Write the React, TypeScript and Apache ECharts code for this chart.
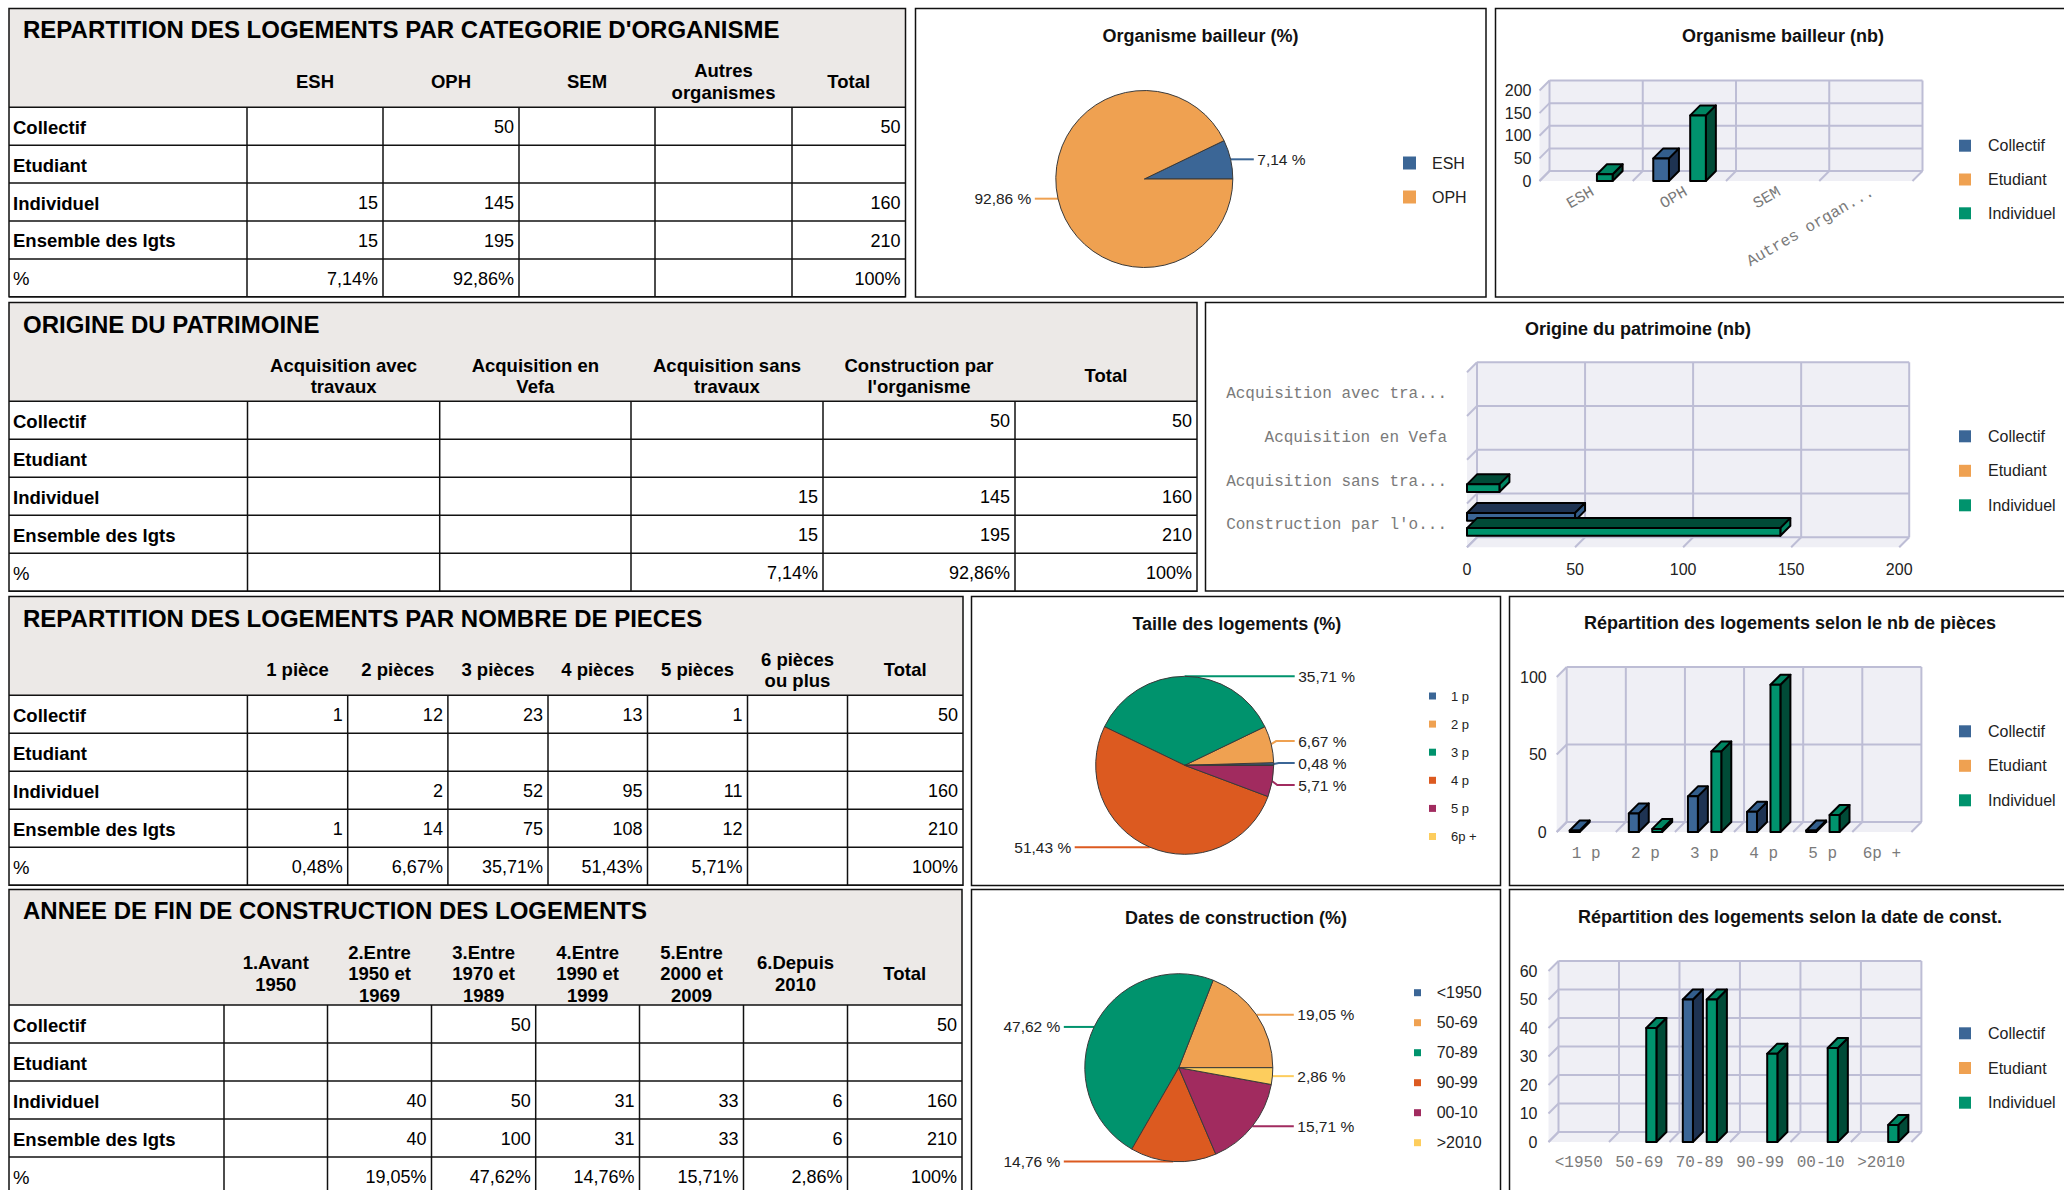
import React, { useEffect, useRef } from "react";
import * as echarts from "echarts";

const FONT = "'Liberation Sans', Arial, Helvetica, sans-serif";
const MONO = "'Liberation Mono', 'Courier New', monospace";

// ================= DATA =================
const rowLabels = ["Collectif", "Etudiant", "Individuel", "Ensemble des lgts", "%"];
const seriesNames = ["Collectif", "Etudiant", "Individuel"];

// 1. Organisme
const orgTitle = "REPARTITION DES LOGEMENTS PAR CATEGORIE D'ORGANISME";
const orgColumns = ["ESH", "OPH", "SEM", "Autres\norganismes", "Total"];
const orgCollectif = [null, 50, null, null, 50];
const orgEtudiant = [null, null, null, null, null];
const orgIndividuel = [15, 145, null, null, 160];
const orgEnsemble = [15, 195, null, null, 210];
const orgPct = [7.14, 92.86, null, null, 100];
const orgCategories = ["ESH", "OPH", "SEM", "Autres organismes"];
const orgPieNames = ["ESH", "OPH"];
const orgPieValues = [7.14, 92.86];
const orgTicks = [0, 50, 100, 150, 200];

// 2. Origine
const origTitle = "ORIGINE DU PATRIMOINE";
const origColumns = ["Acquisition avec\ntravaux", "Acquisition en\nVefa", "Acquisition sans\ntravaux", "Construction par\nl'organisme", "Total"];
const origCollectif = [null, null, null, 50, 50];
const origEtudiant = [null, null, null, null, null];
const origIndividuel = [null, null, 15, 145, 160];
const origEnsemble = [null, null, 15, 195, 210];
const origPct = [null, null, 7.14, 92.86, 100];
const origCategories = ["Acquisition avec travaux", "Acquisition en Vefa", "Acquisition sans travaux", "Construction par l'organisme"];
const origTicks = [0, 50, 100, 150, 200];

// 3. Pieces
const pcsTitle = "REPARTITION DES LOGEMENTS PAR NOMBRE DE PIECES";
const pcsColumns = ["1 pièce", "2 pièces", "3 pièces", "4 pièces", "5 pièces", "6 pièces\nou plus", "Total"];
const pcsCollectif = [1, 12, 23, 13, 1, null, 50];
const pcsEtudiant = [null, null, null, null, null, null, null];
const pcsIndividuel = [null, 2, 52, 95, 11, null, 160];
const pcsEnsemble = [1, 14, 75, 108, 12, null, 210];
const pcsPct = [0.48, 6.67, 35.71, 51.43, 5.71, null, 100];
const pcsCategories = ["1 p", "2 p", "3 p", "4 p", "5 p", "6p +"];
const pcsPieValues = [0.48, 6.67, 35.71, 51.43, 5.71, 0];
const pcsTicks = [0, 50, 100];

// 4. Dates
const datTitle = "ANNEE DE FIN DE CONSTRUCTION DES LOGEMENTS";
const datColumns = ["1.Avant\n1950", "2.Entre\n1950 et\n1969", "3.Entre\n1970 et\n1989", "4.Entre\n1990 et\n1999", "5.Entre\n2000 et\n2009", "6.Depuis\n2010", "Total"];
const datCollectif = [null, null, 50, null, null, null, 50];
const datEtudiant = [null, null, null, null, null, null, null];
const datIndividuel = [null, 40, 50, 31, 33, 6, 160];
const datEnsemble = [null, 40, 100, 31, 33, 6, 210];
const datPct = [null, 19.05, 47.62, 14.76, 15.71, 2.86, 100];
const datCategories = ["<1950", "50-69", "70-89", "90-99", "00-10", ">2010"];
const datPieValues = [0, 19.05, 47.62, 14.76, 15.71, 2.86];
const datTicks = [0, 10, 20, 30, 40, 50, 60];

// ================= STYLE =================
const C_BLUE = "#3b6696";
const C_ORANGE = "#efa151";
const C_GREEN = "#00936d";
const C_RED = "#dc5a20";
const C_PURPLE = "#a12b5f";
const C_YELLOW = "#fdcd5d";
const PIE_COLORS = [C_BLUE, C_ORANGE, C_GREEN, C_RED, C_PURPLE, C_YELLOW];
const BAR_STYLE: Record<string, { front: string; top: string; dark: string }> = {
  Collectif: { front: C_BLUE, top: "#335e8c", dark: "#1e3352" },
  Etudiant: { front: C_ORANGE, top: "#e29445", dark: "#8a5a22" },
  Individuel: { front: C_GREEN, top: "#008562", dark: "#004b37" },
};
const WALL = "#efeff5";
const GRIDC = "#bdbdd5";
const DEPTH = 10;
const HDR_BG = "#ece9e7";
const LINE = "#111";

// ================= HELPERS =================
const fmtNum = (v: number | null) => (v == null ? "" : String(v));
const fmtPct = (v: number | null) => (v == null ? "" : v === 100 ? "100%" : v.toFixed(2).replace(".", ",") + "%");
const trunc = (n: number) => (v: string) => (v.length > n ? v.slice(0, n) + "..." : v);

type TL = { x0: number; x1: number; y0: number; hdrBottom: number; rowH: number; seps: number[]; titleY: number; hdrCY: number };

function buildTable(title: string, columns: string[], rows: (number | null)[][], pct: (number | null)[], L: TL) {
  const els: any[] = [];
  const yEnd = L.hdrBottom + L.rowH * 5;
  els.push({ type: "rect", shape: { x: L.x0, y: L.y0, width: L.x1 - L.x0, height: L.hdrBottom - L.y0 }, style: { fill: HDR_BG } });
  els.push({
    type: "text", x: L.x0 + 14, y: L.titleY,
    style: { text: title, fill: "#000", fontSize: 24, fontWeight: "bold", fontFamily: FONT, align: "left", verticalAlign: "middle" },
  });
  const bounds = [...L.seps, L.x1];
  columns.forEach((c, j) => {
    const cx = (bounds[j] + bounds[j + 1]) / 2;
    const lines = c.split("\n");
    lines.forEach((ln, k) => {
      els.push({
        type: "text", x: cx, y: L.hdrCY + (k - (lines.length - 1) / 2) * 21.5,
        style: { text: ln, fill: "#000", fontSize: 18.5, fontWeight: "bold", fontFamily: FONT, align: "center", verticalAlign: "middle" },
      });
    });
  });
  const allRows = [...rows.map((r) => r.map(fmtNum)), pct.map(fmtPct)];
  allRows.forEach((r, i) => {
    const cy = L.hdrBottom + L.rowH * (i + 0.5) + 1;
    els.push({
      type: "text", x: L.x0 + 4, y: cy,
      style: { text: rowLabels[i], fill: "#000", fontSize: 18.5, fontWeight: i === 4 ? "normal" : "bold", fontFamily: FONT, align: "left", verticalAlign: "middle" },
    });
    r.forEach((t, j) => {
      if (!t) return;
      els.push({
        type: "text", x: bounds[j + 1] - 5, y: cy,
        style: { text: t, fill: "#000", fontSize: 18, fontFamily: FONT, align: "right", verticalAlign: "middle" },
      });
    });
  });
  for (let i = 0; i <= 5; i++) {
    const y = L.hdrBottom + L.rowH * i;
    els.push({ type: "line", shape: { x1: L.x0, y1: y, x2: L.x1, y2: y }, style: { stroke: LINE, lineWidth: 1.5 } });
  }
  L.seps.forEach((x) => {
    els.push({ type: "line", shape: { x1: x, y1: L.hdrBottom, x2: x, y2: yEnd }, style: { stroke: LINE, lineWidth: 1.5 } });
  });
  els.push({ type: "rect", shape: { x: L.x0, y: L.y0, width: L.x1 - L.x0, height: yEnd - L.y0 }, style: { fill: "none", stroke: LINE, lineWidth: 1.5 } });
  return els;
}

function panel(x: number, y: number, w: number, h: number) {
  return { type: "rect", shape: { x, y, width: w, height: h }, style: { fill: "none", stroke: LINE, lineWidth: 1.5 } };
}
function chartTitle(text: string, x: number, y: number) {
  return { type: "text", x, y, style: { text, fill: "#111", fontSize: 18, fontWeight: "bold", fontFamily: FONT, align: "center", verticalAlign: "middle" } };
}

function pieLabelPositions(values: number[], cx: number, cy: number, r: number, colOff: number) {
  const total = values.reduce((a, b) => a + b, 0);
  let acc = 0;
  const items = values.map((v, i) => {
    const a0 = (acc / total) * Math.PI * 2;
    acc += v;
    const a1 = (acc / total) * Math.PI * 2;
    const mid = (a0 + a1) / 2;
    const ex = cx + r * Math.cos(mid);
    const ey = cy - r * Math.sin(mid);
    return { i, v, ex, ey, y: ey, right: Math.cos(mid) > -0.02 };
  });
  const gap = 22;
  [true, false].forEach((side) => {
    const list = items.filter((it) => it.v > 0 && it.right === side).sort((a, b) => a.y - b.y);
    for (let it = 0; it < 60; it++) {
      for (let k = 1; k < list.length; k++) {
        const d = list[k].y - list[k - 1].y;
        if (d < gap) {
          const s = (gap - d) / 2;
          list[k - 1].y -= s;
          list[k].y += s;
        }
      }
    }
  });
  return items.map((it) => {
    const colX = it.right ? cx + colOff : cx - colOff;
    const bend = it.ex + (it.right ? 5 : -5);
    return {
      x: it.right ? colX + 3.5 : colX - 3.5,
      y: it.y,
      align: it.right ? "left" : "right",
      points: [[it.ex, it.ey], [bend, it.y], [colX, it.y]],
    };
  });
}

function pieSeries(names: string[], values: number[], cx: number, cy: number, r: number) {
  const lay = pieLabelPositions(values, cx, cy, r, r + 21);
  return {
    type: "pie",
    center: [cx, cy],
    radius: r,
    startAngle: 0,
    clockwise: false,
    avoidLabelOverlap: false,
    silent: true,
    itemStyle: { borderColor: "#3a3a3a", borderWidth: 1 },
    label: {
      show: true,
      formatter: (p: any) => p.value.toFixed(2).replace(".", ",") + " %",
      fontSize: 15.5,
      color: "#222",
      fontFamily: FONT,
    },
    labelLine: { show: true, length: 0, length2: 10, lineStyle: { width: 2 } },
    labelLayout: (params: any) => {
      const l = lay[params.dataIndex];
      if (!l) return {};
      return { x: l.x, y: l.y, align: l.align, verticalAlign: "middle", labelLinePoints: l.points };
    },
    emphasis: { disabled: true },
    data: names.map((n, i) => ({
      name: n,
      value: values[i],
      itemStyle: { color: PIE_COLORS[i % PIE_COLORS.length] },
      label: values[i] > 0 ? undefined : { show: false },
      labelLine: values[i] > 0 ? undefined : { show: false },
    })),
  };
}

function frame3D(grid: number, horizontal: boolean, ticks: number[], nCat: number) {
  return {
    type: "custom",
    xAxisIndex: grid,
    yAxisIndex: grid,
    silent: true,
    z: 1,
    clip: false,
    data: [[0, 0]],
    encode: horizontal ? { x: 1, y: 0 } : { x: 0, y: 1 },
    renderItem: (params: any, api: any) => {
      const cs = params.coordSys;
      const x0 = cs.x, y0 = cs.y, w = cs.width, h = cs.height, d = DEPTH;
      const ls = { stroke: GRIDC, lineWidth: 2 };
      const ch: any[] = [];
      ch.push({ type: "rect", shape: { x: x0 + d, y: y0 - d, width: w, height: h }, style: { fill: WALL } });
      ch.push({ type: "polygon", shape: { points: [[x0, y0], [x0 + d, y0 - d], [x0 + d, y0 + h - d], [x0, y0 + h]] }, style: { fill: WALL } });
      ch.push({ type: "polygon", shape: { points: [[x0, y0 + h], [x0 + d, y0 + h - d], [x0 + w + d, y0 + h - d], [x0 + w, y0 + h]] }, style: { fill: WALL } });
      if (!horizontal) {
        ticks.forEach((v) => {
          const y = api.coord([0, v])[1];
          ch.push({ type: "line", shape: { x1: x0 + d, y1: y - d, x2: x0 + w + d, y2: y - d }, style: ls });
          ch.push({ type: "line", shape: { x1: x0 + d, y1: y - d, x2: x0, y2: y }, style: ls });
        });
        const band = api.size([1, 0])[0];
        const start = api.coord([0, 0])[0] - band / 2;
        for (let k = 0; k <= nCat; k++) {
          const xb = start + k * band;
          ch.push({ type: "line", shape: { x1: xb + d, y1: y0 - d, x2: xb + d, y2: y0 + h - d }, style: ls });
          ch.push({ type: "line", shape: { x1: xb + d, y1: y0 + h - d, x2: xb, y2: y0 + h }, style: ls });
        }
      } else {
        ticks.forEach((v) => {
          const x = api.coord([v, 0])[0];
          ch.push({ type: "line", shape: { x1: x + d, y1: y0 - d, x2: x + d, y2: y0 + h - d }, style: ls });
          ch.push({ type: "line", shape: { x1: x + d, y1: y0 + h - d, x2: x, y2: y0 + h }, style: ls });
        });
        const band = api.size([0, 1])[1];
        const start = api.coord([0, 0])[1] - band / 2;
        for (let k = 0; k <= nCat; k++) {
          const yb = start + k * band;
          ch.push({ type: "line", shape: { x1: x0 + d, y1: yb - d, x2: x0 + w + d, y2: yb - d }, style: ls });
          ch.push({ type: "line", shape: { x1: x0 + d, y1: yb - d, x2: x0, y2: yb }, style: ls });
        }
      }
      return { type: "group", children: ch };
    },
  };
}

type Geom = { start: number; width: number; pitch: number };
const VGEOM: Geom = { start: 0.22, width: 0.168, pitch: 0.198 };
const HGEOM: Geom = { start: 0.217, width: 0.174, pitch: 0.172 };

function bars3D(name: string, values: (number | null)[], grid: number, slot: number, horizontal: boolean, g: Geom) {
  const st = BAR_STYLE[name];
  const data: number[][] = [];
  values.forEach((v, i) => {
    if (v != null) data.push([i, v]);
  });
  return {
    type: "custom",
    name,
    xAxisIndex: grid,
    yAxisIndex: grid,
    z: 2,
    clip: false,
    silent: true,
    itemStyle: { color: st.front },
    encode: horizontal ? { x: 1, y: 0 } : { x: 0, y: 1 },
    data,
    renderItem: (params: any, api: any) => {
      const cat = api.value(0);
      const val = api.value(1);
      const d = DEPTH;
      const stroke = { stroke: "#000", lineWidth: 2, lineJoin: "round" };
      if (!horizontal) {
        const c0 = api.coord([cat, 0]);
        const c1 = api.coord([cat, val]);
        const band = api.size([1, 0])[0];
        const xL = c0[0] - band / 2 + band * (g.start + slot * g.pitch);
        const bw = band * g.width;
        const yB = c0[1], yT = c1[1];
        return {
          type: "group",
          children: [
            { type: "polygon", shape: { points: [[xL + bw, yT], [xL + bw + d, yT - d], [xL + bw + d, yB - d], [xL + bw, yB]] }, style: { fill: st.dark, ...stroke } },
            { type: "polygon", shape: { points: [[xL, yT], [xL + bw, yT], [xL + bw + d, yT - d], [xL + d, yT - d]] }, style: { fill: st.top, ...stroke } },
            { type: "rect", shape: { x: xL, y: yT, width: bw, height: yB - yT }, style: { fill: st.front, ...stroke } },
          ],
        };
      }
      const c0 = api.coord([0, cat]);
      const c1 = api.coord([val, cat]);
      const band = api.size([0, 1])[1];
      const yT = c0[1] - band / 2 + band * (g.start + slot * g.pitch);
      const t = band * g.width;
      const xA = c0[0], xB = c1[0];
      return {
        type: "group",
        children: [
          { type: "polygon", shape: { points: [[xA, yT], [xB, yT], [xB + d, yT - d], [xA + d, yT - d]] }, style: { fill: st.dark, ...stroke } },
          { type: "polygon", shape: { points: [[xB, yT], [xB + d, yT - d], [xB + d, yT + t - d], [xB, yT + t]] }, style: { fill: st.top, ...stroke } },
          { type: "rect", shape: { x: xA, y: yT, width: xB - xA, height: t }, style: { fill: st.front, ...stroke } },
        ],
      };
    },
  };
}

function legend(names: string[], left: number, top: number, icon: number, fontSize: number, gap: number, pad: number) {
  return {
    orient: "vertical",
    left,
    top,
    padding: 0,
    itemWidth: icon,
    itemHeight: icon,
    itemGap: gap,
    icon: "rect",
    selectedMode: false,
    itemStyle: { borderWidth: 0 },
    data: names,
    textStyle: { fontSize, fontFamily: FONT, color: "#222", lineHeight: fontSize, padding: [0, 0, 0, pad] },
  };
}

const noLine = { show: false };
function catAxis(grid: number, data: string[], extra: any) {
  return {
    type: "category",
    gridIndex: grid,
    data,
    axisLine: noLine,
    axisTick: noLine,
    splitLine: noLine,
    ...extra,
    axisLabel: { fontFamily: MONO, fontSize: 16, color: "#7a7a7a", interval: 0, ...(extra.axisLabel || {}) },
  };
}
function valAxis(grid: number, ticks: number[], margin: number) {
  return {
    type: "value",
    gridIndex: grid,
    min: ticks[0],
    max: ticks[ticks.length - 1],
    interval: ticks[1] - ticks[0],
    axisLine: noLine,
    axisTick: noLine,
    splitLine: noLine,
    axisLabel: { fontFamily: FONT, fontSize: 16, color: "#222", margin },
  };
}

function buildOption() {
  const graphics: any[] = [
    ...buildTable(orgTitle, orgColumns, [orgCollectif, orgEtudiant, orgIndividuel, orgEnsemble], orgPct,
      { x0: 9, x1: 905.5, y0: 8.5, hdrBottom: 107.3, rowH: 37.9, seps: [247, 383, 519, 655, 792], titleY: 29.5, hdrCY: 81.5 }),
    ...buildTable(origTitle, origColumns, [origCollectif, origEtudiant, origIndividuel, origEnsemble], origPct,
      { x0: 9, x1: 1197, y0: 302.5, hdrBottom: 401.3, rowH: 38, seps: [247.5, 439.7, 631, 823, 1015], titleY: 324, hdrCY: 375.8 }),
    ...buildTable(pcsTitle, pcsColumns, [pcsCollectif, pcsEtudiant, pcsIndividuel, pcsEnsemble], pcsPct,
      { x0: 9, x1: 963, y0: 596.5, hdrBottom: 695.3, rowH: 38, seps: [247.4, 347.7, 447.9, 548, 647.5, 747.5, 847.5], titleY: 618, hdrCY: 669.8 }),
    ...buildTable(datTitle, datColumns, [datCollectif, datEtudiant, datIndividuel, datEnsemble], datPct,
      { x0: 9, x1: 962, y0: 889.5, hdrBottom: 1005, rowH: 38, seps: [224, 327.5, 431.5, 535.7, 639.5, 743.5, 847.5], titleY: 910.5, hdrCY: 973.5 }),
    panel(915.5, 8.5, 570.5, 288.5),
    panel(1495.5, 8.5, 620, 288.5),
    panel(1205.5, 302.5, 900, 288.5),
    panel(971.5, 596.5, 529, 289),
    panel(1509.5, 596.5, 620, 289),
    panel(971.5, 889.5, 529, 400),
    panel(1509.5, 889.5, 620, 400),
    chartTitle("Organisme bailleur (%)", 1200.6, 36),
    chartTitle("Organisme bailleur (nb)", 1783, 36),
    chartTitle("Origine du patrimoine (nb)", 1638, 328.7),
    chartTitle("Taille des logements (%)", 1236.8, 623.7),
    chartTitle("Répartition des logements selon le nb de pièces", 1790, 623),
    chartTitle("Dates de construction (%)", 1236, 917.7),
    chartTitle("Répartition des logements selon la date de const.", 1790, 917),
  ];

  const series: any[] = [
    pieSeries(orgPieNames, orgPieValues, 1144.3, 179, 88.5),
    pieSeries(pcsCategories, pcsPieValues, 1184.7, 765.3, 89),
    pieSeries(datCategories, datPieValues, 1178.8, 1067.7, 94),
    frame3D(0, false, orgTicks, orgCategories.length),
    frame3D(1, true, origTicks, origCategories.length),
    frame3D(2, false, pcsTicks, pcsCategories.length),
    frame3D(3, false, datTicks, datCategories.length),
  ];
  const barSets: [(number | null)[][], number, boolean, Geom, number][] = [
    [[orgCollectif, orgEtudiant, orgIndividuel], 0, false, VGEOM, 4],
    [[origCollectif, origEtudiant, origIndividuel], 1, true, HGEOM, 4],
    [[pcsCollectif, pcsEtudiant, pcsIndividuel], 2, false, VGEOM, 6],
    [[datCollectif, datEtudiant, datIndividuel], 3, false, VGEOM, 6],
  ];
  barSets.forEach(([sets, grid, hz, g, n]) => {
    sets.forEach((vals, k) => series.push(bars3D(seriesNames[k], vals.slice(0, n), grid, k, hz, g)));
  });

  return {
    animation: false,
    backgroundColor: "#fff",
    textStyle: { fontFamily: FONT },
    graphic: { elements: graphics },
    grid: [
      { left: 1539.5, top: 90.5, width: 373, height: 90.5 },
      { left: 1467, top: 372.3, width: 432.2, height: 175 },
      { left: 1556.7, top: 677, width: 354.7, height: 155 },
      { left: 1548.5, top: 971, width: 362.9, height: 171 },
    ],
    xAxis: [
      catAxis(0, orgCategories, { axisLabel: { rotate: 30, margin: 14, padding: [0, -8, 0, 0], formatter: trunc(12) } }),
      { ...valAxis(1, origTicks, 14) },
      catAxis(2, pcsCategories, { axisLabel: { margin: 14 } }),
      catAxis(3, datCategories, { axisLabel: { margin: 13 } }),
    ],
    yAxis: [
      valAxis(0, orgTicks, 8),
      catAxis(1, origCategories, { inverse: true, axisLabel: { margin: 20, fontSize: 16, formatter: trunc(20) } }),
      valAxis(2, pcsTicks, 10),
      valAxis(3, datTicks, 11),
    ],
    legend: [
      legend(orgPieNames, 1403, 155, 13, 16, 18, 11),
      legend(seriesNames, 1959, 137.7, 12, 16, 17.8, 12),
      legend(seriesNames, 1959, 428.3, 12, 16, 18.5, 12),
      legend(pcsCategories, 1429, 689.5, 7, 13, 15.1, 10),
      legend(seriesNames, 1959, 723.3, 12, 16, 18.5, 12),
      legend(datCategories, 1414, 984.7, 7, 16, 14, 10.7),
      legend(seriesNames, 1959, 1025.3, 12, 16, 18.7, 12),
    ],
    series,
  };
}

export default function App() {
  const ref = useRef<HTMLDivElement>(null);
  useEffect(() => {
    const chart = echarts.init(ref.current!, null, { renderer: "svg" });
    chart.setOption(buildOption() as any);
    return () => chart.dispose();
  }, []);
  return (
    <div
      ref={ref}
      style={{ position: "absolute", left: 0, top: 0, width: 2064, height: 1190, background: "#fff" }}
    />
  );
}
